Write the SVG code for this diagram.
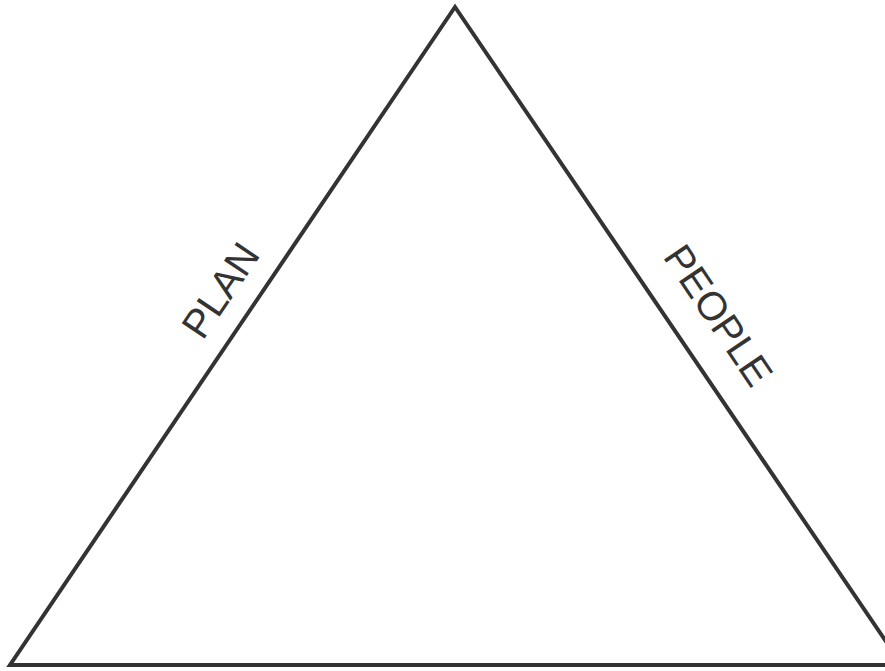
<svg xmlns="http://www.w3.org/2000/svg" width="885" height="671" viewBox="0 0 885 671">
<style>
.edge{fill:none;stroke:#333333;stroke-width:4;stroke-linejoin:miter}
.lbl{font-family:"Liberation Sans",Arial,sans-serif;font-size:40px;fill:#333333;text-anchor:middle}
</style>
<rect width="885" height="671" fill="#ffffff"/>
<g id="triangle">
<polygon class="edge" points="455,7 10,665 902,665"/>
</g>
<g id="label-plan">
<text class="lbl" transform="translate(232,298) rotate(-56)">PLAN</text>
</g>
<g id="label-people">
<text class="lbl" transform="translate(707,323) rotate(56)">PEOPLE</text>
</g>
</svg>
